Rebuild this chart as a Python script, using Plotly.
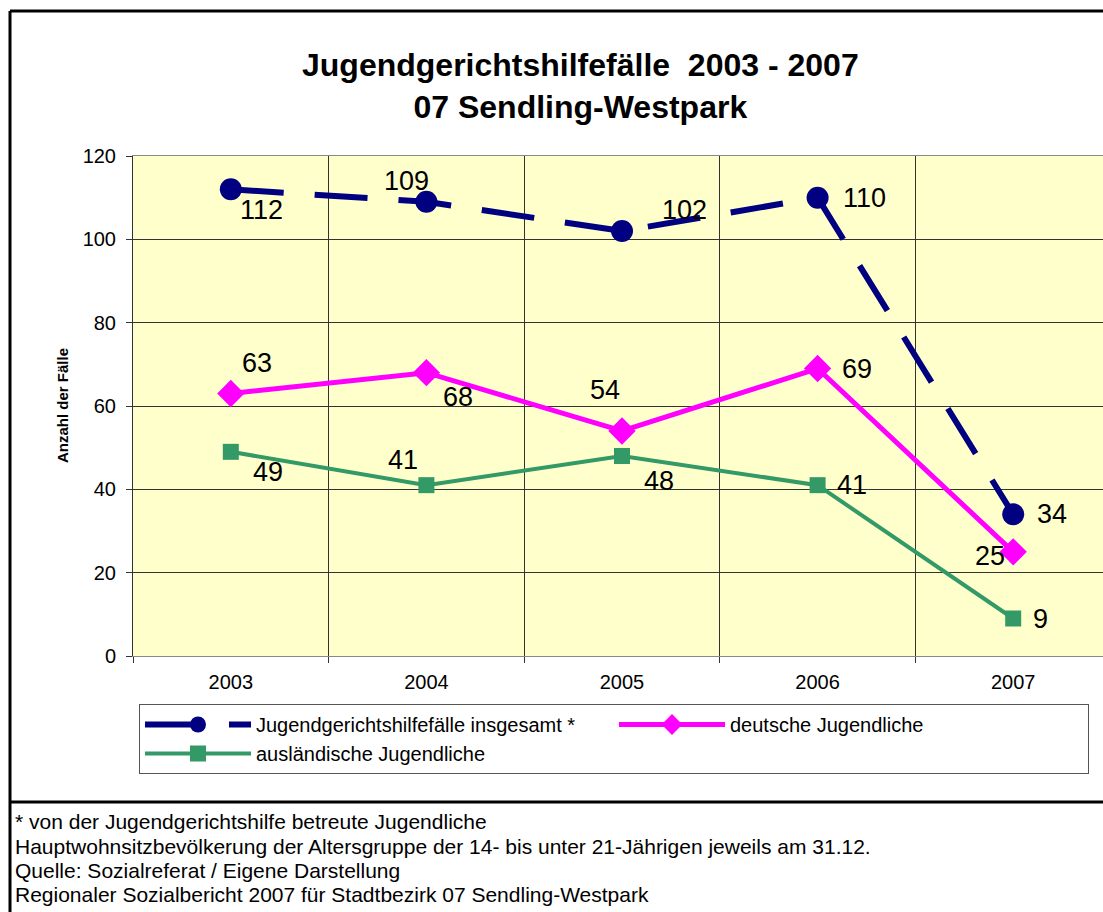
import plotly.graph_objects as go

# --- data ---------------------------------------------------------------
years = ["2003", "2004", "2005", "2006", "2007"]
insgesamt = [112, 109, 102, 110, 34]
deutsche = [63, 68, 54, 69, 25]
auslaendische = [49, 41, 48, 41, 9]

series_names = [
    "Jugendgerichtshilfefälle insgesamt *",
    "deutsche Jugendliche",
    "ausländische Jugendliche",
]

footnotes = [
    "* von der Jugendgerichtshilfe betreute Jugendliche",
    "Hauptwohnsitzbevölkerung der Altersgruppe der 14- bis unter 21-Jährigen jeweils am 31.12.",
    "Quelle: Sozialreferat / Eigene Darstellung",
    "Regionaler Sozialbericht 2007 für Stadtbezirk 07 Sendling-Westpark",
]

# --- geometry (pixels) ----------------------------------------------------
W, H = 1103, 912
ML, MR, MT, MB = 133, 0, 156, 256
PW, PH = W - ML - MR, H - MT - MB
CAT_W = 195.6  # width of one category slot


def px(xp):
    return (xp - ML) / PW


def py(yp):
    return (MT + PH - yp) / PH


FONT = "Liberation Sans, Arial, sans-serif"

fig = go.Figure()

fig.add_trace(go.Scatter(
    x=years, y=insgesamt, name=series_names[0], mode="lines+markers",
    line=dict(color="#000080", width=6, dash="53px,31px"),
    marker=dict(symbol="circle", size=22, color="#000080"),
))
fig.add_trace(go.Scatter(
    x=years, y=deutsche, name=series_names[1], mode="lines+markers",
    line=dict(color="#FF00FF", width=5),
    marker=dict(symbol="diamond", size=21, color="#FF00FF"),
))
fig.add_trace(go.Scatter(
    x=years, y=auslaendische, name=series_names[2], mode="lines+markers",
    line=dict(color="#339966", width=4),
    marker=dict(symbol="square", size=16, color="#339966"),
))

# value labels, offset (px) from their points; x given as category index
label_offsets = [
    [(31, -21), (-20, 21), (62, 21), (47, 0), (39, 0)],
    [(26, 31), (32, -24), (-17, 41), (39, 0), (-23, -4)],
    [(37, -20), (-23, 25), (37, -25), (34, 0), (27, 0)],
]
annotations = []
for values, offs in zip([insgesamt, deutsche, auslaendische], label_offsets):
    for idx, (v, (dx, dy)) in enumerate(zip(values, offs)):
        annotations.append(dict(
            x=idx, y=v, xref="x", yref="y", text=str(v), showarrow=False,
            xshift=dx, yshift=dy, xanchor="center", yanchor="middle",
            font=dict(family=FONT, size=27, color="black"),
        ))

# chart title
annotations.append(dict(
    x=px(580), y=py(86), xref="paper", yref="paper", showarrow=False,
    text="<b>Jugendgerichtshilfefälle&nbsp;&nbsp;2003 - 2007<br>07 Sendling-Westpark</b>",
    xanchor="center", yanchor="middle", align="center",
    font=dict(family=FONT, size=32, color="black"),
))

# y axis title
annotations.append(dict(
    x=px(62), y=py(406), xref="paper", yref="paper", showarrow=False,
    text="<b>Anzahl der Fälle</b>", textangle=-90,
    xanchor="center", yanchor="middle",
    font=dict(family=FONT, size=15, color="black"),
))

# footnotes
for txt, ypos in zip(footnotes, [821, 846, 870, 894]):
    annotations.append(dict(
        x=px(13), y=py(ypos), xref="paper", yref="paper", showarrow=False,
        text=txt, xanchor="left", yanchor="middle", align="left",
        font=dict(family=FONT, size=21, color="black"),
    ))

# frame lines
shapes = [
    dict(type="line", xref="paper", yref="paper", x0=px(10), x1=px(1103),
         y0=py(11), y1=py(11), line=dict(color="black", width=3)),
    dict(type="line", xref="paper", yref="paper", x0=px(10), x1=px(10),
         y0=py(11), y1=py(912), line=dict(color="black", width=3)),
    dict(type="line", xref="paper", yref="paper", x0=px(10), x1=px(1103),
         y0=py(802), y1=py(802), line=dict(color="black", width=3)),
]

x_hi = -0.5 + PW / CAT_W

fig.update_layout(
    width=W, height=H,
    margin=dict(l=ML, r=MR, t=MT, b=MB, pad=0),
    paper_bgcolor="white",
    plot_bgcolor="#FFFFCC",
    font=dict(family=FONT, color="black"),
    showlegend=True,
    legend=dict(
        orientation="h", x=px(139), y=py(704), xanchor="left", yanchor="top",
        xref="paper", yref="paper",
        entrywidth=353, entrywidthmode="pixels", itemwidth=106,
        font=dict(family=FONT, size=20, color="black"),
        bordercolor="#555555", borderwidth=1, bgcolor="white",
        traceorder="normal", tracegroupgap=0,
    ),
    xaxis=dict(
        type="category", range=[-0.5, x_hi], tickson="boundaries",
        showgrid=True, gridcolor="#333333", gridwidth=1,
        ticks="outside", ticklen=6, tickcolor="#333333",
        showline=True, linecolor="#888888", linewidth=1, mirror=True,
        tickfont=dict(family=FONT, size=20, color="black"),
        ticklabelstandoff=8, fixedrange=True,
    ),
    yaxis=dict(
        range=[0, 120], dtick=20, tick0=0,
        showgrid=True, gridcolor="#333333", gridwidth=1,
        zeroline=False,
        ticks="outside", ticklen=6, tickcolor="#333333",
        showline=True, linecolor="#333333", linewidth=1,
        tickfont=dict(family=FONT, size=20, color="black"),
        ticklabelstandoff=6, fixedrange=True,
    ),
    annotations=annotations,
    shapes=shapes,
)

fig.write_html("out.html", config={"displayModeBar": False})
